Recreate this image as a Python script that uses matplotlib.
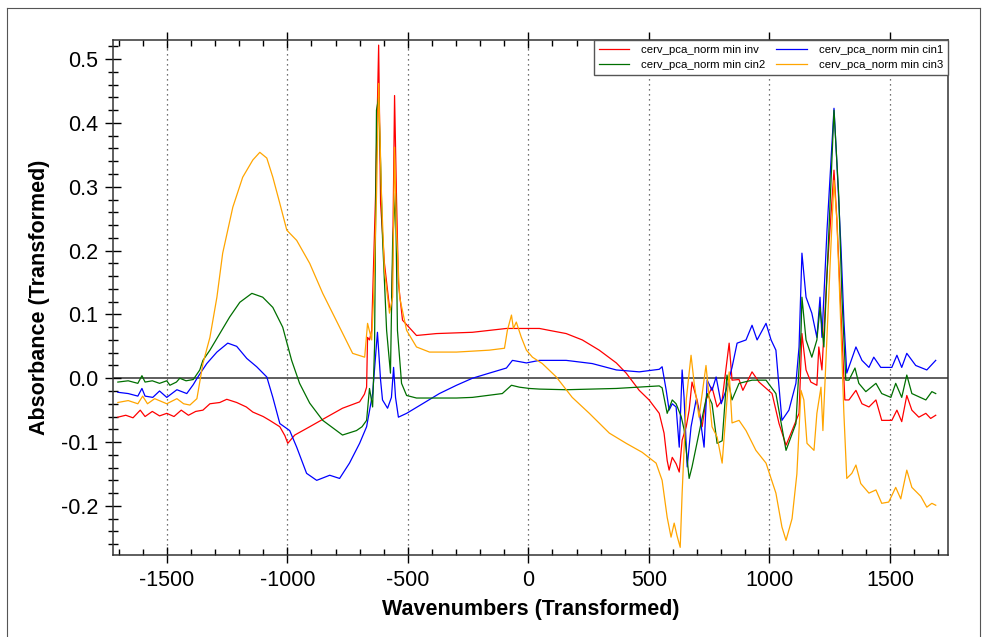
import matplotlib
matplotlib.use("Agg")
import matplotlib.pyplot as plt
from matplotlib.lines import Line2D
from matplotlib.ticker import MultipleLocator, FormatStrFormatter

plt.rcParams['font.family'] = ['Liberation Sans', 'DejaVu Sans']
plt.rcParams['axes.unicode_minus'] = False

# series (x in transformed wavenumbers)
inv_x = [-1703, -1670, -1640, -1610, -1590, -1560, -1530, -1500, -1470, -1440, -1410, -1380,
         -1350, -1321, -1280, -1251, -1210, -1170, -1143, -1100, -1073, -1031, -1010, -998,
         -969, -907, -837, -771, -700, -680, -671, -667, -659, -650, -646, -634, -621, -613,
         -597, -576, -568, -563, -555, -547, -539, -522, -464, -381, -232, -91, 46, 87, 157,
         224, 294, 365, 406, 460, 501, 543, 563, 576, 584, 597, 613, 626, 638, 655, 667, 679,
         700, 721, 737, 762, 783, 804, 833, 845, 874, 890, 928, 957, 1011, 1040, 1069, 1094,
         1123, 1135, 1152, 1172, 1197, 1205, 1218, 1239, 1268, 1280, 1297, 1313, 1330, 1359,
         1384, 1413, 1442, 1466, 1508, 1529, 1549, 1570, 1591, 1620, 1649, 1669, 1690]
inv_y = [-0.061, -0.058, -0.062, -0.050, -0.060, -0.052, -0.059, -0.055, -0.060, -0.050, -0.058, -0.052,
         -0.050, -0.040, -0.038, -0.033, -0.038, -0.045, -0.053, -0.060, -0.066, -0.076, -0.090, -0.102,
         -0.089, -0.076, -0.061, -0.047, -0.037, -0.025, -0.014, 0.064, 0.060, 0.075, 0.127, 0.284, 0.522, 0.274,
         0.180, 0.111, 0.107, 0.180, 0.443, 0.284, 0.149, 0.091, 0.067, 0.070, 0.072, 0.078, 0.078, 0.075, 0.070,
         0.060, 0.044, 0.024, 0.008, -0.019, -0.034, -0.055, -0.086, -0.129, -0.144, -0.124, -0.134, -0.147, -0.097, -0.076, -0.050, -0.006,
         -0.034, -0.076, -0.034, -0.014, -0.045, -0.034, 0.055, -0.003, -0.002, -0.019, 0.010, -0.006, -0.024, -0.071, -0.105, -0.082,
         -0.055, 0.070, 0.013, -0.006, -0.011, 0.049, 0.013, 0.164, 0.326, 0.248, 0.102, -0.034, -0.034, -0.019,
         -0.040, -0.045, -0.034, -0.066, -0.066, -0.050, -0.068, -0.027, -0.050, -0.061, -0.055, -0.063, -0.058]

cin1_x = [-1703, -1660, -1620, -1603, -1590, -1558, -1530, -1500, -1458, -1417, -1390, -1371,
          -1334, -1292, -1247, -1210, -1168, -1127, -1085, -1060, -1031, -990, -961, -920, -878,
          -824, -783, -742, -700, -671, -646, -626, -613, -605, -584, -568, -559, -551, -539,
          -505, -439, -369, -298, -232, -162, -91, -66, -8, 46, 157, 265, 365, 460, 543, 555,
          572, 584, 597, 613, 626, 638, 646, 659, 675, 696, 708, 729, 742, 762, 779, 800, 820,
          845, 866, 903, 928, 949, 986, 1007, 1027, 1040, 1052, 1081, 1110, 1123, 1135, 1152,
          1176, 1197, 1210, 1218, 1239, 1268, 1280, 1297, 1309, 1321, 1359, 1384, 1413, 1433,
          1462, 1508, 1529, 1549, 1570, 1607, 1653, 1690]
cin1_y = [-0.022, -0.024, -0.028, -0.016, -0.028, -0.030, -0.020, -0.030, -0.018, -0.024, -0.010, 0.002,
          0.023, 0.041, 0.055, 0.050, 0.031, 0.018, 0.002, -0.030, -0.071, -0.082, -0.108, -0.149, -0.160,
          -0.152, -0.157, -0.133, -0.102, -0.076, -0.024, 0.072, -0.003, -0.034, -0.047, -0.030, 0.017, -0.030, -0.061,
          -0.055, -0.040, -0.024, -0.011, 0.000, 0.008, 0.016, 0.028, 0.024, 0.028, 0.028, 0.023, 0.013, 0.010, 0.014, 0.018,
          -0.019, -0.050, -0.040, -0.045, -0.108, 0.013, -0.030, -0.139, -0.076, -0.034, -0.050, -0.108, -0.003, -0.019, 0.002, -0.040, -0.019,
          0.017, 0.055, 0.060, 0.083, 0.060, 0.086, 0.060, 0.044, -0.014, -0.066, -0.050, -0.008, 0.049, 0.196, 0.127,
          0.102, 0.064, 0.127, 0.064, 0.232, 0.423, 0.337, 0.205, 0.091, 0.008, 0.049, 0.028, 0.017, 0.033,
          0.017, 0.017, 0.036, 0.017, 0.039, 0.020, 0.013, 0.028]

cin2_x = [-1703, -1660, -1620, -1603, -1590, -1560, -1530, -1500, -1487, -1460, -1446, -1420,
          -1390, -1363, -1350, -1321, -1280, -1239, -1197, -1147, -1102, -1060, -1019, -982, -949,
          -907, -853, -771, -713, -690, -671, -659, -646, -638, -630, -621, -613, -605, -588,
          -572, -563, -551, -543, -526, -505, -464, -298, -232, -108, -70, -37, 4, 46, 157, 365,
          543, 555, 576, 597, 613, 634, 646, 667, 679, 708, 742, 762, 783, 804, 824, 845, 874,
          928, 986, 1027, 1069, 1110, 1131, 1135, 1152, 1176, 1197, 1210, 1226, 1247, 1268, 1288,
          1301, 1317, 1330, 1355, 1371, 1400, 1442, 1466, 1504, 1524, 1549, 1570, 1591, 1649, 1674, 1690]
cin2_y = [-0.006, -0.004, -0.008, 0.004, -0.006, -0.004, -0.008, -0.004, -0.011, -0.006, 0.000, -0.004,
          -0.002, 0.013, 0.028, 0.044, 0.070, 0.096, 0.119, 0.133, 0.127, 0.111, 0.080, 0.028, -0.008,
          -0.039, -0.066, -0.089, -0.082, -0.076, -0.066, -0.016, -0.045, 0.049, 0.420, 0.440, 0.337, 0.221, 0.075,
          0.008, 0.212, 0.290, 0.075, -0.008, -0.027, -0.031, -0.031, -0.030, -0.024, -0.011, -0.014, -0.016, -0.017, -0.018, -0.016,
          -0.012, -0.015, -0.055, -0.034, -0.040, -0.060, -0.080, -0.157, -0.139, -0.086, -0.024, -0.040, -0.102, -0.098, 0.005, -0.034, -0.008,
          -0.003, -0.003, -0.024, -0.113, -0.071, 0.070, 0.127, 0.060, 0.033, 0.060, 0.111, 0.049, 0.232, 0.420, 0.284,
          0.127, -0.003, -0.003, 0.016, -0.008, -0.021, -0.008, -0.024, -0.030, -0.008, -0.030, 0.005, -0.024, -0.034, -0.021, -0.024]

cin3_x = [-1703, -1660, -1620, -1600, -1580, -1550, -1500, -1458, -1430, -1404, -1375, -1350,
          -1321, -1292, -1268, -1226, -1185, -1143, -1114, -1085, -1060, -1031, -1002, -961, -907,
          -853, -783, -729, -679, -667, -650, -642, -630, -621, -609, -597, -576, -563, -555,
          -547, -534, -505, -464, -410, -298, -162, -99, -87, -70, -62, -50, -29, -8, 17, 58,
          116, 182, 253, 336, 406, 472, 530, 555, 576, 592, 605, 617, 630, 638, 655, 675, 688,
          708, 737, 762, 783, 804, 833, 845, 874, 903, 944, 986, 1027, 1052, 1069, 1094, 1114,
          1131, 1143, 1156, 1185, 1197, 1214, 1222, 1234, 1255, 1268, 1280, 1297, 1309, 1321, 1342,
          1359, 1379, 1413, 1442, 1466, 1495, 1524, 1545, 1570, 1591, 1628, 1653, 1674, 1690]
cin3_y = [-0.038, -0.035, -0.040, -0.028, -0.040, -0.032, -0.040, -0.032, -0.040, -0.042, -0.032, 0.023,
          0.064, 0.127, 0.196, 0.268, 0.315, 0.342, 0.354, 0.345, 0.315, 0.274, 0.232, 0.216, 0.180,
          0.133, 0.080, 0.039, 0.033, 0.086, 0.060, 0.127, 0.284, 0.462, 0.284, 0.169, 0.102, 0.127, 0.362,
          0.230, 0.127, 0.075, 0.049, 0.041, 0.041, 0.044, 0.047, 0.075, 0.099, 0.078, 0.088, 0.064, 0.044, 0.033, 0.023,
          0.002, -0.030, -0.055, -0.086, -0.102, -0.116, -0.133, -0.160, -0.218, -0.249, -0.227, -0.247, -0.265, -0.180, -0.034, 0.036, -0.008,
          -0.061, 0.020, -0.076, -0.092, -0.133, 0.010, -0.070, -0.066, -0.082, -0.113, -0.133, -0.180, -0.233, -0.254, -0.220, -0.150,
          -0.019, -0.034, -0.102, -0.113, -0.055, -0.014, -0.082, 0.023, 0.205, 0.310, 0.248, 0.075, -0.055, -0.157, -0.149,
          -0.136, -0.165, -0.180, -0.175, -0.196, -0.194, -0.171, -0.189, -0.144, -0.171, -0.185, -0.202, -0.196, -0.199]

names = ['cerv_pca_norm min inv', 'cerv_pca_norm min cin1',
         'cerv_pca_norm min cin2', 'cerv_pca_norm min cin3']
colors = ['#ff0000', '#0000ff', '#006f00', '#ffa500']

fig = plt.figure(figsize=(9.87, 6.37), dpi=100)
ax = fig.add_axes([0.1145, 0.1287, 0.8460, 0.8085])

ax.axhline(0, color='#333333', lw=1.1, zorder=1)
for xv in [-1500, -1000, -500, 0, 500, 1000, 1500]:
    ax.axvline(xv, color='#444444', lw=0.9, ls=(0, (1, 3)), zorder=0.5)

h_inv, = ax.plot(inv_x, inv_y, color=colors[0], lw=0.9, label=names[0])
h_c1, = ax.plot(cin1_x, cin1_y, color=colors[1], lw=0.9, label=names[1])
h_c2, = ax.plot(cin2_x, cin2_y, color=colors[2], lw=0.9, label=names[2])
h_c3, = ax.plot(cin3_x, cin3_y, color=colors[3], lw=0.9, label=names[3])

ax.set_xlim(-1723, 1741)
ax.set_ylim(-0.277, 0.53)

ax.xaxis.set_major_locator(MultipleLocator(500))
ax.xaxis.set_minor_locator(MultipleLocator(100))
ax.yaxis.set_major_locator(MultipleLocator(0.1))
ax.yaxis.set_minor_locator(MultipleLocator(0.02))
ax.tick_params(axis='both', which='major', direction='inout', length=11, width=1,
               labelsize=15.5, pad=5)
ax.tick_params(axis='both', which='minor', direction='inout', length=6.5, width=1)
ax.tick_params(axis='x', which='minor', top=True, direction='in', length=4)
ax.tick_params(axis='x', which='major', top=True)
ax.yaxis.set_major_formatter(FormatStrFormatter('%.1f'))

for side in ['left', 'bottom', 'top', 'right']:
    ax.spines[side].set_color('#333333')
    ax.spines[side].set_linewidth(1.1)

ax.set_xlabel('Wavenumbers (Transformed)', fontsize=15.5, fontweight='bold', labelpad=6)
ax.set_ylabel('Absorbance (Transformed)', fontsize=15.5, fontweight='bold', labelpad=8)

leg = ax.legend(handles=[h_inv, h_c2, h_c1, h_c3], ncol=2, loc='upper right',
                bbox_to_anchor=(1.0, 1.0), borderaxespad=0, fontsize=8.2,
                handlelength=2.7, columnspacing=1.0, handletextpad=1.0,
                labelspacing=0.45, fancybox=False, framealpha=1,
                edgecolor='#555555', borderpad=0.45)
leg.get_frame().set_linewidth(1.0)

# thin frame around the whole picture
for xs, ys in [([0.007, 0.007], [0.0, 0.988]), ([0.007, 0.993], [0.988, 0.988]),
               ([0.993, 0.993], [0.0, 0.988])]:
    fig.add_artist(Line2D(xs, ys, color='#555555', lw=0.8, transform=fig.transFigure))

fig.savefig('out.png', dpi=100)
